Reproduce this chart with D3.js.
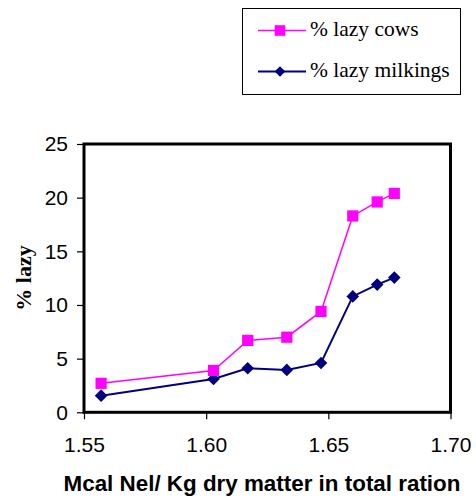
<!DOCTYPE html>
<html><head><meta charset="utf-8">
<script src="https://cdn.jsdelivr.net/npm/d3@7"></script>
<style>body{margin:0;background:#fff}svg{display:block}</style>
</head><body>
<svg id="c" width="476" height="503"></svg>
<script>
const xValues = [1.557, 1.603, 1.617, 1.633, 1.647, 1.660, 1.670, 1.677];
const lazyCows = [2.7, 3.9, 6.7, 7.0, 9.4, 18.3, 19.6, 20.4];
const lazyMilkings = [1.55, 3.1, 4.1, 3.95, 4.6, 10.8, 11.9, 12.55];
const xTicks = [1.55, 1.60, 1.65, 1.70];
const yTicks = [0, 5, 10, 15, 20, 25];
const seriesNames = ["% lazy cows", "% lazy milkings"];
const seriesColors = ["#FF00FF", "#000080"];

const svg = d3.select("#c");
const x = d3.scaleLinear().domain([1.55, 1.70]).range([84, 450.5]);
const y = d3.scaleLinear().domain([0, 25]).range([412.3, 144]);

// frame
svg.append("rect").attr("x", x(1.55)).attr("y", y(25))
  .attr("width", x(1.70) - x(1.55)).attr("height", y(0) - y(25))
  .attr("fill", "none").attr("stroke", "#000").attr("stroke-width", 3);

// y axis
const yAxis = svg.append("g").attr("transform", `translate(${x(1.55)},0)`)
  .call(d3.axisLeft(y).tickValues(yTicks).tickSize(7).tickPadding(9).tickFormat(d3.format("d")));
yAxis.select(".domain").remove();
yAxis.selectAll("line").attr("stroke", "#000").attr("stroke-width", 1.2);
yAxis.selectAll("text").attr("font-family", "Liberation Sans, Arial, sans-serif")
  .attr("font-size", 21).attr("fill", "#000");

// x axis
const xAxis = svg.append("g").attr("transform", `translate(0,${y(0)})`)
  .call(d3.axisBottom(x).tickValues(xTicks).tickSize(7).tickPadding(18).tickFormat(d3.format(".2f")));
xAxis.select(".domain").remove();
xAxis.selectAll("line").attr("stroke", "#000").attr("stroke-width", 1.2);
xAxis.selectAll("text").attr("font-family", "Liberation Sans, Arial, sans-serif")
  .attr("font-size", 21).attr("fill", "#000");

// titles
svg.append("text").attr("x", 262).attr("y", 491).attr("text-anchor", "middle")
  .attr("font-family", "Liberation Sans, Arial, sans-serif").attr("font-weight", "bold")
  .attr("font-size", 22.4).text("Mcal Nel/ Kg dry matter in total ration");
svg.append("text").attr("transform", "translate(31,278) rotate(-90)").attr("text-anchor", "middle")
  .attr("font-family", "Liberation Serif, Times New Roman, serif").attr("font-weight", "bold")
  .attr("font-size", 22).text("% lazy");

const series = [lazyCows, lazyMilkings];
const line = d3.line().x((d, i) => x(xValues[i])).y(d => y(d));
const sqr = (r) => `M${-r},${-r}H${r}V${r}H${-r}Z`;
const dia = (r) => `M0,${-r}L${r},0L0,${r}L${-r},0Z`;

// draw milkings first then cows
[1, 0].forEach(s => {
  const g = svg.append("g");
  g.append("path").attr("d", line(series[s])).attr("fill", "none")
    .attr("stroke", seriesColors[s]).attr("stroke-width", s === 0 ? 1.5 : 2);
  g.selectAll("path.m").data(series[s]).enter().append("path").attr("class", "m")
    .attr("transform", (d, i) => `translate(${x(xValues[i])},${y(d)})`)
    .attr("d", s === 0 ? sqr(5.6) : dia(6.3)).attr("fill", seriesColors[s]);
});

// legend
svg.append("rect").attr("x", 242.5).attr("y", 8.5).attr("width", 218).attr("height", 86)
  .attr("fill", "#fff").attr("stroke", "#000").attr("stroke-width", 1);
const ly = [30.5, 71.5];
[0, 1].forEach(s => {
  svg.append("line").attr("x1", 258).attr("x2", 306).attr("y1", ly[s]).attr("y2", ly[s])
    .attr("stroke", seriesColors[s]).attr("stroke-width", s === 0 ? 1.5 : 2);
  svg.append("path").attr("transform", `translate(280,${ly[s]})`)
    .attr("d", s === 0 ? sqr(5.3) : dia(5.3)).attr("fill", seriesColors[s]);
  svg.append("text").attr("x", 310).attr("y", ly[s] + 5.5)
    .attr("font-family", "Liberation Serif, Times New Roman, serif").attr("font-size", 21.5)
    .text(seriesNames[s]);
});
</script>
</body></html>
